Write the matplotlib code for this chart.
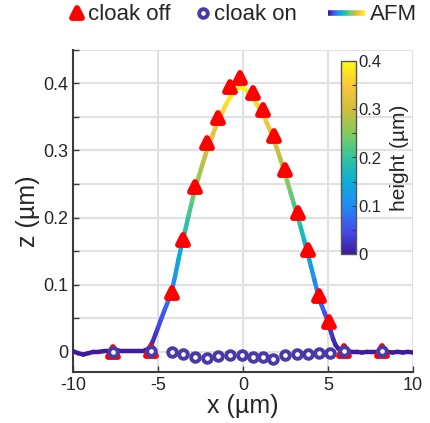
import numpy as np
import matplotlib
matplotlib.use("Agg")
import matplotlib.pyplot as plt
from matplotlib.collections import LineCollection
from matplotlib.colors import LinearSegmentedColormap
from matplotlib.legend_handler import HandlerBase
from matplotlib.markers import MarkerStyle
from matplotlib.ticker import MultipleLocator

plt.rcParams['font.family'] = ['Liberation Sans', 'DejaVu Sans']

TEXT = '#262626'
RED = '#ff0000'
BLUE = '#4a3aa8'

# AFM height profile (um)
afm_x = [-10.0, -9.7, -9.4, -9.1, -8.8, -8.5, -8.2, -7.9, -7.6, -7.3, -7.0, -6.7,
         -6.4, -6.1, -5.8, -5.6, -5.45, -5.3, -5.15, -5.0, -4.8, -4.6, -4.4, -4.2,
         -4.0, -3.8, -3.6, -3.4, -3.2, -3.0, -2.8, -2.6, -2.4, -2.2, -2.0, -1.8,
         -1.6, -1.4, -1.2, -1.0, -0.8, -0.6, -0.4, -0.2, 0.0, 0.2, 0.4, 0.6, 0.8,
         1.0, 1.2, 1.4, 1.6, 1.8, 2.0, 2.2, 2.4, 2.6, 2.8, 3.0, 3.2, 3.4, 3.6, 3.8,
         4.0, 4.2, 4.4, 4.6, 4.8, 5.0, 5.15, 5.3, 5.45, 5.6, 5.8, 6.1, 6.4, 6.7,
         7.0, 7.3, 7.6, 7.9, 8.2, 8.5, 8.8, 9.1, 9.4, 9.7, 10.0]
afm_z = [0.001, -0.002, -0.004, -0.002, 0.000, 0.000, 0.001, 0.001, 0.001, 0.002,
         0.002, 0.002, 0.002, 0.002, 0.002, 0.004, 0.008, 0.016, 0.026, 0.036,
         0.050, 0.063, 0.076, 0.090, 0.112, 0.137, 0.160, 0.181, 0.203, 0.224,
         0.244, 0.261, 0.278, 0.294, 0.309, 0.322, 0.335, 0.347, 0.358, 0.368,
         0.377, 0.385, 0.391, 0.394, 0.393, 0.389, 0.383, 0.376, 0.369, 0.361,
         0.352, 0.341, 0.329, 0.316, 0.302, 0.287, 0.271, 0.254, 0.237, 0.220,
         0.203, 0.185, 0.166, 0.147, 0.127, 0.107, 0.087, 0.071, 0.058, 0.045,
         0.032, 0.019, 0.010, 0.005, 0.002, 0.001, 0.000, 0.000, -0.001, 0.000,
         0.000, 0.000, 0.001, 0.000, -0.001, 0.000, -0.001, 0.000, -0.001]

# cloak off measurement points
off_x = [-7.67, -5.41, -4.19, -3.51, -2.82, -2.14, -1.45, -0.76, -0.18, 0.61,
         1.19, 1.84, 2.47, 3.22, 3.80, 4.47, 5.06, 5.94, 8.16]
off_z = [0.000, 0.002, 0.087, 0.167, 0.246, 0.311, 0.348, 0.395, 0.407, 0.385,
         0.360, 0.321, 0.271, 0.207, 0.151, 0.083, 0.044, 0.002, 0.002]

# cloak on measurement points
on_x = [-7.67, -5.41, -4.19, -3.51, -2.82, -2.14, -1.45, -0.76, -0.05, 0.61,
        1.19, 1.78, 2.47, 3.16, 3.84, 4.49, 5.12, 5.94, 8.16]
on_z = [0.000, 0.002, 0.000, -0.003, -0.007, -0.009, -0.006, -0.004, -0.005,
        -0.008, -0.008, -0.011, -0.004, -0.003, -0.003, -0.002, -0.001, 0.002, 0.002]

# parula-like colormap
parula = LinearSegmentedColormap.from_list('parula', [
    (0.00, (0.2422, 0.1004, 0.6203)),
    (0.12, (0.2700, 0.3000, 0.9300)),
    (0.25, (0.1300, 0.5500, 0.9500)),
    (0.38, (0.0400, 0.6900, 0.8300)),
    (0.50, (0.2000, 0.7700, 0.6200)),
    (0.62, (0.5000, 0.8000, 0.3800)),
    (0.75, (0.8200, 0.7400, 0.2400)),
    (0.87, (0.9900, 0.7800, 0.2300)),
    (1.00, (0.9769, 0.9839, 0.0805)),
])


class HandlerGradient(HandlerBase):
    def create_artists(self, legend, orig_handle, xdescent, ydescent,
                       width, height, fontsize, trans):
        n = 24
        xs = np.linspace(-xdescent, width - xdescent, n + 1)
        y = height / 2 - ydescent
        segs = [[(xs[i], y), (xs[i + 1], y)] for i in range(n)]
        lc = LineCollection(segs, cmap=parula, linewidth=4, transform=trans)
        lc.set_array(np.linspace(0, 1, n))
        return [lc]


fig = plt.figure(figsize=(4.31, 4.23), dpi=100)
ax = fig.add_axes([73 / 431, 51 / 423, 340 / 431, 322.4 / 423])

# ── AFM line coloured by height ──
pts = np.column_stack([afm_x, afm_z])
segs = np.stack([pts[:-1], pts[1:]], axis=1)
afm = LineCollection(segs, cmap=parula, linewidth=3.2, capstyle='round',
                     joinstyle='round', zorder=3)
afm.set_array((np.array(afm_z[:-1]) + np.array(afm_z[1:])) / 2)
afm.set_clim(0, 0.4)
ax.add_collection(afm)

tri = MarkerStyle('^', joinstyle='round')
off_line, = ax.plot(off_x, off_z, linestyle='none', marker=tri, markersize=7.5,
                    markerfacecolor='white', markeredgecolor=RED,
                    markeredgewidth=4.2, zorder=4, label='cloak off')
on_line, = ax.plot(on_x, on_z, linestyle='none', marker='o', markersize=6.2,
                   markerfacecolor='white', markeredgecolor=BLUE,
                   markeredgewidth=2.8, zorder=5, label='cloak on')

ax.set_xlim(-10, 10)
ax.set_ylim(-0.03, 0.45)
ax.yaxis.set_minor_locator(MultipleLocator(0.05))
ax.set_yticks([0, 0.1, 0.2, 0.3, 0.4])
ax.set_yticklabels(['0', '0.1', '0.2', '0.3', '0.4'])
ax.set_xticks([-10, -5, 0, 5, 10])
ax.set_xticklabels(['-10', '-5', '0', '5', '10'])

ax.grid(True, which='both', color='#e1e1e1', linewidth=1.5)
ax.set_axisbelow(True)
for s in ['top', 'right']:
    ax.spines[s].set_visible(False)
for s in ['left', 'bottom']:
    ax.spines[s].set_color('#3c3c3c')
    ax.spines[s].set_linewidth(1.5)
ax.tick_params(which='both', direction='in', colors='#3c3c3c', labelcolor=TEXT,
               labelsize=13, width=1, length=4)
ax.tick_params(axis='x', which='minor', length=0)

ax.set_xlabel('x (µm)', fontsize=18, color=TEXT, labelpad=0)
ax.set_ylabel('z (µm)', fontsize=18, color=TEXT, labelpad=2)

# ── colorbar inside the axes ──
cax = fig.add_axes([341 / 431, 169 / 423, 15 / 431, 193 / 423])
cb = fig.colorbar(afm, cax=cax)
cb.set_ticks([0, 0.1, 0.2, 0.3, 0.4])
cb.set_ticklabels(['0', '0.1', '0.2', '0.3', '0.4'])
cb.ax.yaxis.set_minor_locator(MultipleLocator(0.05))
cb.ax.tick_params(which='both', direction='in', length=3, width=0.8,
                  colors='#3c3c3c', labelcolor=TEXT, labelsize=12, pad=2)
cb.outline.set_edgecolor('#555555')
cb.outline.set_linewidth(1)
cb.set_label('height (µm)', fontsize=15, color=TEXT, labelpad=6)

# ── legends above the axes ──
leg1 = fig.legend(handles=[off_line, on_line], loc='center left',
                  bbox_to_anchor=(68 / 431, 1 - 15 / 423), ncol=2,
                  frameon=False, fontsize=16, handlelength=0.8,
                  handletextpad=0.1, columnspacing=1.05, borderpad=0,
                  borderaxespad=0, labelcolor=TEXT)
leg2 = fig.legend(handles=[afm], labels=['AFM'], loc='center left',
                  bbox_to_anchor=(328 / 431, 1 - 15 / 423), frameon=False,
                  fontsize=16, handlelength=1.67, handletextpad=0.22,
                  borderpad=0, borderaxespad=0, labelcolor=TEXT,
                  handler_map={LineCollection: HandlerGradient()})

fig.savefig('out.png', dpi=100)
plt.close(fig)
